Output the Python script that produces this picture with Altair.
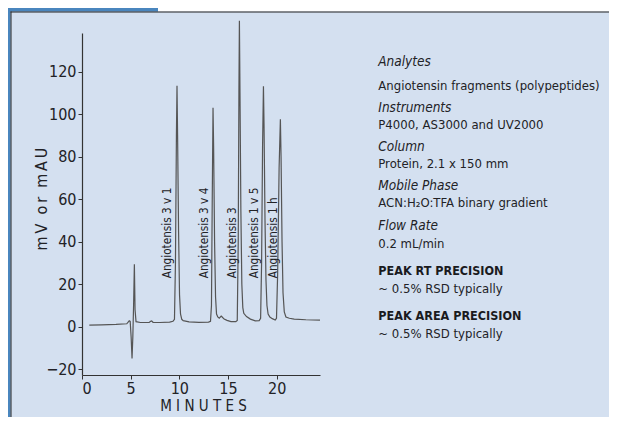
import altair as alt
import pandas as pd

# ---------------- data ----------------
time_min = [0.75, 2.0, 3.5, 4.6, 4.85, 4.95, 5.05, 5.14, 5.22, 5.3, 5.38, 5.45, 5.55,
            6.0, 6.9, 7.05, 7.15, 7.3, 8.0, 9.0, 9.35, 9.5, 9.6, 9.7, 9.76, 9.82,
            9.92, 10.02, 10.12, 10.25, 10.4, 11.0, 12.0, 13.0, 13.2, 13.3, 13.38,
            13.46, 13.52, 13.62, 13.72, 13.82, 13.95, 14.1, 14.3, 14.4, 14.6, 14.9,
            15.3, 15.8, 15.95, 16.05, 16.12, 16.17, 16.23, 16.32, 16.42, 16.52,
            16.62, 16.9, 17.3, 17.8, 18.2, 18.35, 18.45, 18.55, 18.64, 18.7, 18.8,
            18.9, 19.0, 19.12, 19.3, 19.55, 19.85, 19.98, 20.1, 20.25, 20.38, 20.45,
            20.55, 20.65, 20.78, 20.95, 21.3, 21.8, 23.0, 24.45]
signal = [0.8, 0.9, 1.1, 1.4, 2.8, 2.5, -5, -14.9, -5, 10, 29.4, 8, 2.4,
          2.0, 2.0, 2.6, 2.7, 2.1, 2.0, 2.2, 2.6, 3.5, 30, 90, 113.4, 90,
          45, 15, 6, 3.5, 2.9, 2.3, 2.1, 2.2, 2.6, 10, 60,
          103, 85, 40, 14, 6, 4.6, 4.0, 5.0, 4.6, 3.6, 3.0,
          2.4, 2.4, 3, 40, 110, 144, 110, 55, 20, 9,
          6.3, 4.8, 3.6, 2.8, 2.9, 4, 30, 85, 113.1, 95, 50,
          22, 10, 6, 4.6, 3.8, 3.2, 4, 25, 75, 97.6, 80,
          40, 16, 7, 4.6, 4.0, 3.6, 3.3, 3.1]

peak_names = ["Angiotensis 3 v 1", "Angiotensis 3 v 4", "Angiotensis 3",
              "Angiotensis 1 v 5", "Angiotensis 1 h"]
peak_label_t = [8.70, 12.56, 15.38, 17.67, 19.59]
peak_label_v = [22.8, 22.8, 22.8, 22.8, 22.8]

x_ticks = [0, 5, 10, 15, 20]
y_ticks = [-20, 0, 20, 40, 60, 80, 100, 120]

info_lines = ["Analytes",
              "Angiotensin fragments (polypeptides)",
              "Instruments",
              "P4000, AS3000 and UV2000",
              "Column",
              "Protein, 2.1 x 150 mm",
              "Mobile Phase",
              "ACN:H\u2082O:TFA binary gradient",
              "Flow Rate",
              "0.2 mL/min",
              "PEAK RT PRECISION",
              "~ 0.5% RSD typically",
              "PEAK AREA PRECISION",
              "~ 0.5% RSD typically"]
info_kind = ["head", "body", "head", "body", "head", "body", "head", "body",
             "head", "body", "bold", "body", "bold", "body"]

# ---------------- layout ----------------
FONT = "DejaVu Sans Condensed, Liberation Sans Narrow, sans-serif"
INK = "#222226"
PANEL = "#d4e0f0"
BLUE = "#4a86be"
W, H = 238, 342
TOTAL_W, TOTAL_H = 601, 409
PAD = {"left": 74, "top": 25, "right": TOTAL_W - 74 - W, "bottom": TOTAL_H - 25 - H}

info_y_px = [29, 53, 74.7, 92, 113.7, 131.3, 152.7, 170.3, 192.7, 211, 237.7, 256, 282.7, 301]
INFO_X = 296.3

NB = "\u00a0"
TH = "\u2009"


def spaced(s, sep):
    return sep.join(list(s))


one = pd.DataFrame({"a": [0]})


def rect(x, x2, y, y2, color):
    return alt.Chart(one).mark_rect(color=color).encode(
        x=alt.value(x), x2=alt.value(x2), y=alt.value(y), y2=alt.value(y2))


RIGHT = TOTAL_W - 74
BOTTOM = TOTAL_H - 25
deco = [
    rect(-74, 76, -25, -21.5, BLUE),
    rect(76, RIGHT, -25, -21.5, "#ffffff"),
    rect(-74, -71.5, -25, BOTTOM, BLUE),
    rect(-71.5, RIGHT, -21.5, -20.5, "#222222"),
    rect(-71.5, -70.5, -21.5, BOTTOM, "#222222"),
]

trace_df = pd.DataFrame({"t": time_min, "v": signal})
xs = alt.Scale(domain=[0, 24.45], nice=False, zero=False)
ys = alt.Scale(domain=[-22.7, 138.2], nice=False, zero=False)

line = alt.Chart(trace_df).mark_line(color="#555555", strokeWidth=1.2).encode(
    x=alt.X("t:Q", scale=xs, axis=alt.Axis(values=x_ticks, title=None, format="d")),
    y=alt.Y("v:Q", scale=ys, axis=alt.Axis(values=y_ticks, title=None, format="d")),
    order="t:Q",
)

peaks_df = pd.DataFrame({"name": peak_names, "t": peak_label_t, "v": peak_label_v})
peak_text = alt.Chart(peaks_df).mark_text(
    angle=270, align="left", baseline="middle", font=FONT, fontSize=11.7, color=INK
).encode(x=alt.X("t:Q", scale=xs), y=alt.Y("v:Q", scale=ys), text="name:N")

x_title = alt.Chart(one).mark_text(
    text=spaced("MINUTES", NB), font=FONT, fontSize=15, color=INK, align="center",
    baseline="middle"
).encode(x=alt.value(121.5), y=alt.value(372.5))

y_title_text = (NB + NB).join(spaced(w, TH) for w in ["mV", "or", "mAU"])
y_title = alt.Chart(one).mark_text(
    text=y_title_text, font=FONT, fontSize=16, color=INK, align="center",
    baseline="middle", angle=270
).encode(x=alt.value(-40.3), y=alt.value(166))

info_layers = []
for txt, kind, ypx in zip(info_lines, info_kind, info_y_px):
    if kind == "head":
        mk = alt.Chart(one).mark_text(text=txt, font=FONT, fontSize=13.5,
                                      fontStyle="italic", color=INK, align="left",
                                      baseline="middle")
    elif kind == "bold":
        mk = alt.Chart(one).mark_text(text=txt, font=FONT, fontSize=12.5,
                                      fontWeight="bold", color="#1a1a1e", align="left",
                                      baseline="middle")
    else:
        mk = alt.Chart(one).mark_text(text=txt, font=FONT, fontSize=13, color=INK,
                                      align="left", baseline="middle")
    info_layers.append(mk.encode(x=alt.value(INFO_X), y=alt.value(ypx)))

chart = alt.layer(*deco, line, peak_text, x_title, y_title, *info_layers).properties(
    width=W, height=H, padding=PAD,
    autosize=alt.AutoSizeParams(type="none"),
    background=PANEL,
).configure_view(stroke=None).configure_axis(
    grid=False, domainColor="#333333", tickColor="#333333", tickSize=4,
    labelColor=INK, labelFont=FONT, labelFontSize=16, domainWidth=1.2,
).configure_axisY(labelPadding=2).configure_axisX(labelPadding=1)

chart.save("out.html", embed_options={"renderer": "svg", "actions": False})
